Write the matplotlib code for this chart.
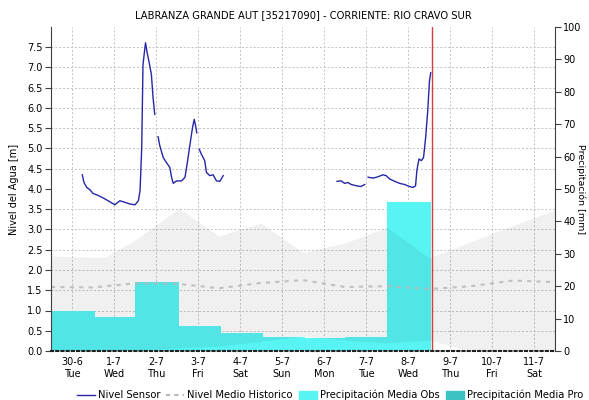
import numpy as np
import matplotlib.pyplot as plt
from matplotlib.lines import Line2D
from matplotlib.patches import Patch

plt.rcParams['font.family'] = 'DejaVu Sans'
plt.rcParams['font.size'] = 7

# days counted from 30-6 00:00
day_labels = ['30-6\nTue', '1-7\nWed', '2-7\nThu', '3-7\nFri', '4-7\nSat', '5-7\nSun',
              '6-7\nMon', '7-7\nTue', '8-7\nWed', '9-7\nThu', '10-7\nFri', '11-7\nSat']

# nivel sensor [m], NaN marks gaps in transmission
sensor_t = [0.745, 0.785, 0.85, 0.93, 1.0, 1.125, 1.24, 1.36, 1.52, 1.64, 1.76, 1.88, 2.0,
            2.08, 2.12, 2.16, 2.19, 2.25, 2.29, 2.33, 2.39, 2.43, 2.47, 2.51,
            2.55, 2.59, 2.67, 2.75, 2.83, 2.87, 2.91, 2.99, 3.11, 3.19, 3.24, 3.31, 3.37,
            3.41, 3.45, 3.47, 3.50,
            3.53, 3.58, 3.66, 3.70, 3.78, 3.86, 3.94, 4.02, 4.10, 6.5,
            6.81, 6.91, 6.99, 7.07, 7.15, 7.27, 7.37, 7.47, 7.51,
            7.55, 7.67, 7.78, 7.90, 7.98, 8.06, 8.18, 8.30, 8.42, 8.54, 8.62, 8.68,
            8.71, 8.76, 8.82, 8.87, 8.92, 8.97, 9.01, 9.04]
sensor_v = [4.35, 4.16, 4.04, 3.98, 3.89, 3.84, 3.78, 3.71, 3.61, 3.71, 3.67, 3.63, 3.61,
            3.71, 3.96, 5.02, 7.07, 7.61, 7.36, 7.16, 6.83, 6.25, 5.84, np.nan,
            5.29, 5.07, 4.78, 4.65, 4.53, 4.29, 4.14, 4.20, 4.20, 4.29, 4.61, 5.11, 5.52,
            5.72, 5.52, 5.39, np.nan,
            4.98, 4.86, 4.70, 4.41, 4.33, 4.35, 4.20, 4.19, 4.33, np.nan,
            4.19, 4.20, 4.14, 4.16, 4.11, 4.08, 4.06, 4.11, np.nan,
            4.29, 4.27, 4.30, 4.35, 4.33, 4.25, 4.19, 4.14, 4.11, 4.06, 4.04, 4.08,
            4.45, 4.74, 4.70, 4.78, 5.27, 5.93, 6.66, 6.87]

# nivel medio historico [m]
hist_t = [0, 1, 2, 3, 4, 5, 6, 7, 8, 9, 10, 11, 12]
hist_mean = [1.58, 1.57, 1.67, 1.66, 1.55, 1.68, 1.75, 1.58, 1.60, 1.53, 1.60, 1.74, 1.70]

# historic max / min envelope [m]
band_t = [0, 1, 1.3, 2, 3.05, 4, 5, 6, 7, 8, 9, 10, 11, 12]
band_hi = [2.35, 2.31, 2.32, 2.74, 3.52, 2.84, 3.16, 2.43, 2.67, 3.05, 2.30, 2.70, 3.10, 3.48]
band_lo = [0.0, 0.0, 0.0, 0.02, 0.08, 0.12, 0.24, 0.37, 0.27, 0.20, 0.27, 0.0, 0.0, 0.0]

# daily precipitation [mm]
precip_day = [0, 1, 2, 3, 4, 5, 6, 7, 8]
precip_obs = [12.5, 10.5, 21.2, 7.6, 5.5, 4.2, 4.1, 4.2, 45.9]

now_t = 9.08

fig = plt.figure(figsize=(5.89, 4.0), dpi=100)
ax2 = fig.add_axes([0.0866, 0.1225, 0.8557, 0.81])
ax = ax2.twinx()
ax.set_zorder(ax2.get_zorder() + 1)
ax.patch.set_visible(False)
ax2.patch.set_visible(True)
ax2.patch.set_facecolor('white')

# back layer: grid + precipitation bars
grid_kw = dict(color='#c2c2c2', linestyle=(0, (2, 2)), linewidth=0.7)
ax2.set_xlim(0, 12)
ax2.set_ylim(0, 100)
ax2.set_yticks(np.arange(0, 101, 10))
ax2.set_yticks(np.arange(0, 100, 6.25), minor=True)
ax2.set_xticks(np.arange(0.5, 12, 1))
ax2.grid(True, which='minor', axis='y', **grid_kw)
ax2.grid(True, which='major', axis='x', **grid_kw)
ax2.bar(precip_day, precip_obs, width=1.04, align='edge', color='#58f4f4', zorder=2)
ax2.yaxis.tick_right()
ax2.yaxis.set_label_position('right')
ax2.tick_params(axis='y', which='major', direction='out', length=4, color='#404040', pad=2)
ax2.tick_params(axis='y', which='minor', length=0)
ax2.tick_params(axis='x', labelbottom=False, length=0)
ax2.set_ylabel('Precipitación [mm]', rotation=-90, labelpad=3, fontsize=6.8)
for s in ['top', 'left', 'bottom']:
    ax2.spines[s].set_visible(False)
ax2.spines['right'].set_color('#404040')

# front layer: levels
ax.set_ylim(0, 8)
ax.fill_between(band_t, band_lo, band_hi, color='black', alpha=0.058, linewidth=0)
ax.plot(hist_t, hist_mean, color='#b8b8b8', linestyle=(0, (2, 2.5)), linewidth=1.5, alpha=0.85)
ax.plot(sensor_t, sensor_v, color='#2626a8', linewidth=1)
ax.axvline(now_t, color='#d04040', linewidth=1)
ax.yaxis.tick_left()
ax.yaxis.set_label_position('left')
ax.set_yticks(np.arange(0, 7.6, 0.5))
ax.set_yticklabels(['%.1f' % v for v in np.arange(0, 7.6, 0.5)])
ax.tick_params(axis='y', direction='out', length=4, color='#404040', pad=2)
ax.set_ylabel('Nivel del Agua [m]', labelpad=6)
ax.xaxis.set_visible(True)
ax.set_xticks(np.arange(0.5, 12, 1))
ax.set_xticklabels(day_labels, linespacing=1.3)
ax.tick_params(axis='x', length=0, pad=4)
for s in ['top', 'right']:
    ax.spines[s].set_visible(False)
ax.spines['left'].set_color('#404040')
ax.spines['bottom'].set_color('#202020')
ax.spines['bottom'].set_linestyle((0, (1, 1.5)))
ax.spines['bottom'].set_linewidth(1.5)
ax.set_xlim(0, 12)

fig.text(0.515, 0.962, 'LABRANZA GRANDE AUT [35217090] - CORRIENTE: RIO CRAVO SUR',
         ha='center', va='center', fontsize=7.2)

handles = [Line2D([], [], color='#2626a8', linewidth=1),
           Line2D([], [], color='#b8b8b8', linestyle=(0, (2, 2)), linewidth=1.5),
           Patch(color='#58f4f4'),
           Patch(color='#3cc2c2')]
labels = ['Nivel Sensor', 'Nivel Medio Historico', 'Precipitación Media Obs', 'Precipitación Media Pro']
fig.legend(handles, labels, loc='center', bbox_to_anchor=(0.56, 0.012), ncol=4, frameon=False,
           fontsize=7.2, handlelength=1.8, handletextpad=0.3, columnspacing=0.6,
           handleheight=0.9)

fig.savefig('out.png', dpi=100)
